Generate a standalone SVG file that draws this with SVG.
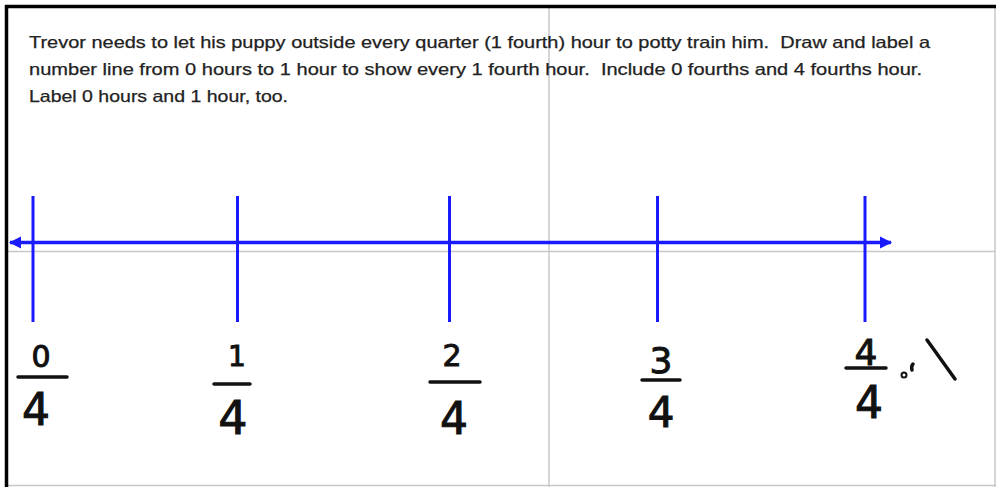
<svg xmlns="http://www.w3.org/2000/svg" width="996" height="487" viewBox="0 0 996 487">
<style>
.q{font-family:"Liberation Sans",Arial,sans-serif;font-size:16.5px;fill:#222;stroke:#222;stroke-width:0.25;white-space:pre}
.d{font-family:"DejaVu Sans","Liberation Sans",sans-serif;fill:#111;stroke:#111;stroke-width:1;text-anchor:middle}
.bar{stroke:#111;stroke-width:3.5;stroke-linecap:round;fill:none}
.tick{stroke:#1a1aff;stroke-width:3}
.grid{stroke:#c8c8c8;stroke-width:1.5}
</style>
<defs>
<marker id="ah" viewBox="0 0 10 10" refX="9" refY="5" markerWidth="3.5" markerHeight="3.5" orient="auto-start-reverse" markerUnits="strokeWidth">
<path d="M0,0 L10,5 L0,10 z" fill="#1a1aff"/>
</marker>
</defs>
<rect width="996" height="487" fill="#fff"/>
<g id="frame">
<line class="grid" x1="549" y1="8" x2="549" y2="487"/>
<line class="grid" x1="8" y1="251.5" x2="996" y2="251.5"/>
<line class="grid" x1="8" y1="485.5" x2="996" y2="485.5"/>
<line class="grid" x1="995" y1="8" x2="995" y2="487"/>
<line x1="6.5" y1="5" x2="6.5" y2="487" stroke="#000" stroke-width="3.5"/>
<line x1="5" y1="6.5" x2="996" y2="6.5" stroke="#000" stroke-width="3.5"/>
</g>
<g id="question">
<text class="q" x="29" y="48" textLength="901" lengthAdjust="spacingAndGlyphs">Trevor needs to let his puppy outside every quarter (1 fourth) hour to potty train him.  Draw and label a</text>
<text class="q" x="29" y="75" textLength="893" lengthAdjust="spacingAndGlyphs">number line from 0 hours to 1 hour to show every 1 fourth hour.  Include 0 fourths and 4 fourths hour.</text>
<text class="q" x="29" y="102" textLength="259" lengthAdjust="spacingAndGlyphs">Label 0 hours and 1 hour, too.</text>
</g>
<g id="connectors">
<line x1="10" y1="242.5" x2="891" y2="242.5" stroke="#1a1aff" stroke-width="3.5" marker-start="url(#ah)" marker-end="url(#ah)"/>
</g>
<g id="tick-0"><line class="tick" x1="33" y1="196" x2="33" y2="322"/></g>
<g id="tick-1"><line class="tick" x1="237.5" y1="196" x2="237.5" y2="322"/></g>
<g id="tick-2"><line class="tick" x1="449.5" y1="196" x2="449.5" y2="322"/></g>
<g id="tick-3"><line class="tick" x1="657.5" y1="196" x2="657.5" y2="322"/></g>
<g id="tick-4"><line class="tick" x1="865" y1="196" x2="865" y2="322"/></g>
<g id="frac-0">
<text class="d" x="41" y="367" font-size="30">0</text>
<line class="bar" x1="18" y1="377" x2="67" y2="377"/>
<text class="d" x="36" y="425" font-size="44">4</text>
</g>
<g id="frac-1">
<text class="d" x="237" y="366" font-size="28">1</text>
<line class="bar" x1="214" y1="384" x2="250" y2="384"/>
<text class="d" x="233" y="434" font-size="46">4</text>
</g>
<g id="frac-2">
<text class="d" x="452" y="366" font-size="30">2</text>
<line class="bar" x1="430" y1="382" x2="480" y2="382"/>
<text class="d" x="454" y="434" font-size="44">4</text>
</g>
<g id="frac-3">
<text class="d" x="661" y="373" font-size="36">3</text>
<line class="bar" x1="642" y1="380" x2="680" y2="380"/>
<text class="d" x="661" y="427" font-size="42">4</text>
</g>
<g id="frac-4">
<text class="d" x="866" y="365" font-size="36">4</text>
<line class="bar" x1="846" y1="368" x2="886" y2="368"/>
<text class="d" x="869" y="418" font-size="44">4</text>
<circle cx="904" cy="375" r="2.5" fill="none" stroke="#111" stroke-width="2"/>
<path class="bar" d="M912,370 Q911,366 913,364" stroke-width="2.5"/>
<path class="bar" d="M927,340 L955,379" stroke-width="3"/>
</g>
</svg>
